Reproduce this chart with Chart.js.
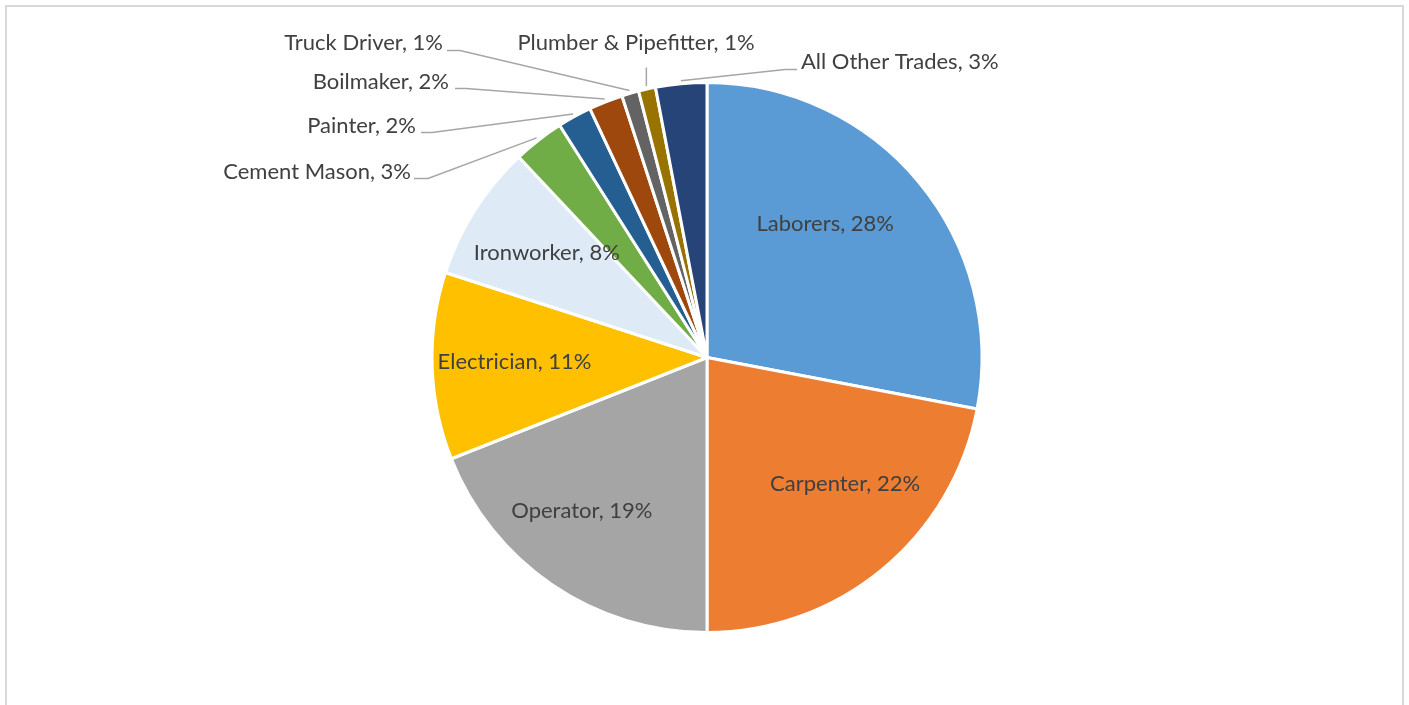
<!DOCTYPE html>
<html>
<head>
<meta charset="utf-8">
<script src="https://cdn.jsdelivr.net/npm/chart.js@4.4.1/dist/chart.umd.min.js"></script>
<style>
  html, body { margin: 0; padding: 0; background: #fff; overflow: hidden; }
  #wrap { position: relative; width: 1409px; height: 705px; }
  #frame {
    position: absolute; left: 5px; top: 5px; width: 1399px; height: 720px;
    border: 2px solid #d9d9d9; box-sizing: border-box;
  }
  #tradeChart { position: absolute; left: 0; top: 0; }
</style>
</head>
<body>
<div id="wrap">
  <div id="frame"></div>
  <canvas id="tradeChart" width="1409" height="705"></canvas>
</div>
<script>
const trades = [
  "Laborers", "Carpenter", "Operator", "Electrician", "Ironworker",
  "Cement Mason", "Painter", "Boilmaker", "Truck Driver",
  "Plumber & Pipefitter", "All Other Trades",
];
const sharePct = [28, 22, 19, 11, 8, 3, 2, 2, 1, 1, 3];
const sliceColors = [
  "#5B9BD5", "#ED7D31", "#A5A5A5", "#FFC000", "#DEEBF7",
  "#70AD47", "#255E91", "#9E480E", "#636363", "#997300", "#264478",
];

const labelFont = "22px Lato, 'Open Sans', sans-serif";
const labelColor = "#404040";
const leaderColor = "#a6a6a6";

// inside labels: angle nudge (deg) and radius fraction along the slice bisector
const insideNudge = {
  "Laborers": { da: -9, rf: 0.65 },
  "Carpenter": { da: -8, rf: 0.68 },
  "Operator": { da: 5, rf: 0.72 },
  "Electrician": { da: 0.5, rf: 0.70 },
  "Ironworker": { da: 0.6, rf: 0.695 },
};

// outside labels, offsets from pie centre: text anchor and leader elbow
const outsideSpots = {
  "Cement Mason": { tx: -296, ty: -186, align: "right", lx: -293, ex: -279, ey: -179 },
  "Painter": { tx: -291, ty: -232, align: "right", lx: -286, ex: -275, ey: -225 },
  "Boilmaker": { tx: -258, ty: -276, align: "right", lx: -252, ex: -241, ey: -269 },
  "Truck Driver": { tx: -264, ty: -315, align: "right", lx: -260, ex: -247, ey: -307 },
  "Plumber & Pipefitter": { tx: -71, ty: -315, align: "center", vertical: true, ey: -290 },
  "All Other Trades": { tx: 94, ty: -296, align: "left", lx: 90, ex: 78, ey: -288 },
};

const pieLabels = {
  id: "pieLabels",
  afterDatasetsDraw(chart) {
    const ctx = chart.ctx;
    const arcs = chart.getDatasetMeta(0).data;
    ctx.save();
    ctx.font = labelFont;
    ctx.fillStyle = labelColor;
    ctx.textBaseline = "middle";

    arcs.forEach((arc, i) => {
      const name = trades[i];
      const text = name + ", " + sharePct[i] + "%";
      const mid = (arc.startAngle + arc.endAngle) / 2;
      const cx = arc.x;
      const cy = arc.y;
      const r = arc.outerRadius;

      if (insideNudge[name]) {
        const n = insideNudge[name];
        const a = mid + (n.da * Math.PI) / 180;
        ctx.textAlign = "center";
        ctx.fillText(text, cx + Math.cos(a) * r * n.rf, cy + Math.sin(a) * r * n.rf);
        return;
      }

      const s = outsideSpots[name];
      if (!s) return;
      const rimX = cx + Math.cos(mid) * (r + 3);
      const rimY = cy + Math.sin(mid) * (r + 3);

      ctx.strokeStyle = leaderColor;
      ctx.lineWidth = 1.5;
      ctx.beginPath();
      if (s.vertical) {
        ctx.moveTo(rimX, cy + s.ey);
        ctx.lineTo(rimX, rimY);
      } else {
        ctx.moveTo(cx + s.lx, cy + s.ey);
        ctx.lineTo(cx + s.ex, cy + s.ey);
        ctx.lineTo(rimX, rimY);
      }
      ctx.stroke();

      ctx.textAlign = s.align;
      ctx.fillText(text, cx + s.tx, cy + s.ty);
    });
    ctx.restore();
  },
};

document.addEventListener("DOMContentLoaded", () => {
  const ctx = document.getElementById("tradeChart").getContext("2d");
  new Chart(ctx, {
    type: "pie",
    data: {
      labels: trades,
      datasets: [
        {
          data: sharePct,
          backgroundColor: sliceColors,
          borderColor: "#fff",
          borderWidth: 3,
        },
      ],
    },
    options: {
      responsive: false,
      animation: false,
      radius: 275,
      layout: { padding: { left: 5, right: 0, top: 10, bottom: 0 } },
      plugins: {
        legend: { display: false },
        tooltip: { enabled: false },
      },
    },
    plugins: [pieLabels],
  });
});
</script>
</body>
</html>
